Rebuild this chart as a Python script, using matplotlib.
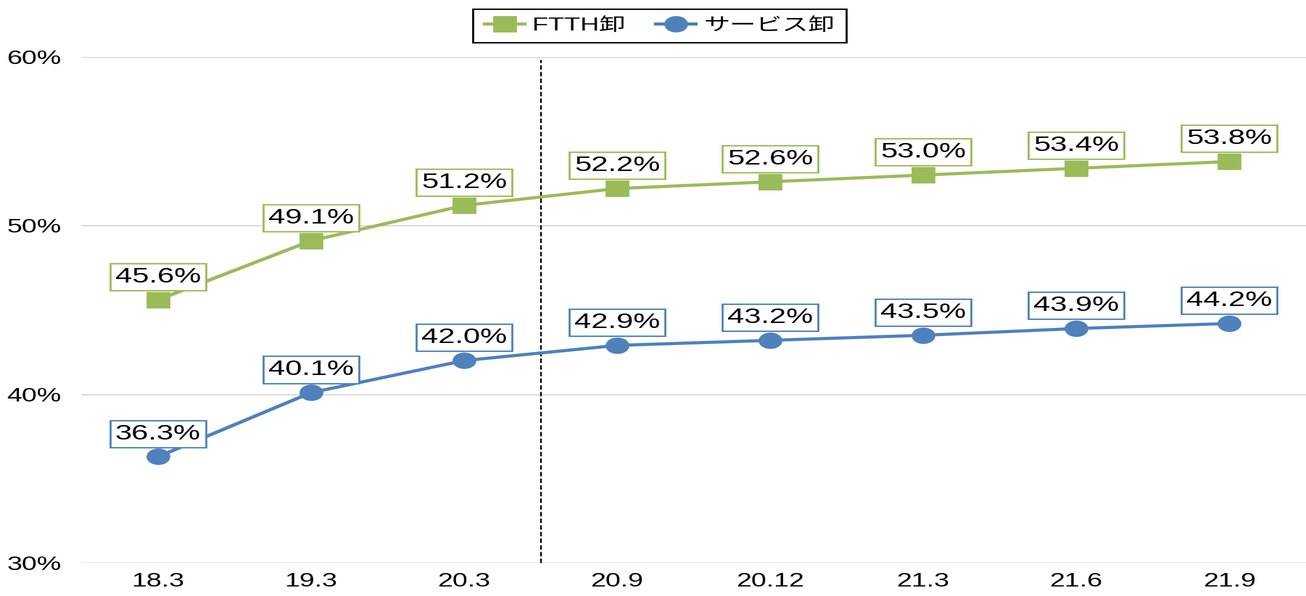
import io
import matplotlib
matplotlib.use("Agg")
import matplotlib.pyplot as plt
from PIL import Image

# the reference is stretched sideways, so draw narrow and widen afterwards
STRETCH = 1.45

periods = ['18.3', '19.3', '20.3', '20.9', '20.12', '21.3', '21.6', '21.9']
ftth = [45.6, 49.1, 51.2, 52.2, 52.6, 53.0, 53.4, 53.8]
service = [36.3, 40.1, 42.0, 42.9, 43.2, 43.5, 43.9, 44.2]
y_ticks = [30, 40, 50, 60]

green = '#9BBB59'
blue = '#4F81BD'

plt.rcParams['font.family'] = ['Liberation Sans', 'Noto Sans CJK JP']

fig = plt.figure(figsize=(13.06 / STRETCH, 5.96), dpi=100)
ax = fig.add_axes([0.0624, 0.0554, 0.9372, 0.849])

x = list(range(len(periods)))
ax.plot(x, ftth, color=green, linewidth=2.25, marker='s', markersize=10.5,
        label='FTTH卸', zorder=3)
ax.plot(x, service, color=blue, linewidth=2.25, marker='o', markersize=10.8,
        label='サービス卸', zorder=3)

for series, col in [(ftth, green), (service, blue)]:
    for xi, v in zip(x, series):
        ax.annotate(f'{v:.1f}%', (xi, v), xytext=(0, 16.5), textcoords='offset points',
                    ha='center', va='center', fontsize=15, zorder=4,
                    bbox=dict(boxstyle='square,pad=0.17', fc='white', ec=col, lw=1))

ax.axvline(2.5, ymin=0, ymax=0.994, color='black', linewidth=0.8,
           linestyle=(0, (4, 2)), zorder=2)

ax.set_xlim(-0.5, len(periods) - 0.5)
ax.set_ylim(30, 60)
ax.set_xticks(x)
ax.set_xticklabels(periods)
ax.set_yticks(y_ticks)
ax.set_yticklabels([f'{t}%' for t in y_ticks])
ax.tick_params(length=0, labelsize=13.5)
ax.tick_params(axis='y', pad=10)
ax.tick_params(axis='x', pad=7)
ax.grid(axis='y', color='#D9D9D9', linewidth=1)
ax.set_axisbelow(True)
for s in ax.spines.values():
    s.set_visible(False)

fig.legend(loc='center', bbox_to_anchor=(0.505, 0.957), ncol=2, fontsize=13,
           frameon=True, fancybox=False, edgecolor='black', framealpha=1,
           handlelength=1.5, handletextpad=0.3, columnspacing=1.2, borderpad=0.45)
fig.legends[0].get_frame().set_linewidth(1)

buf = io.BytesIO()
fig.savefig(buf, format='png', dpi=200, facecolor='white')
buf.seek(0)
img = Image.open(buf).convert('RGB')
img = img.resize((1306, 596), Image.LANCZOS)
img.save('out.png')
